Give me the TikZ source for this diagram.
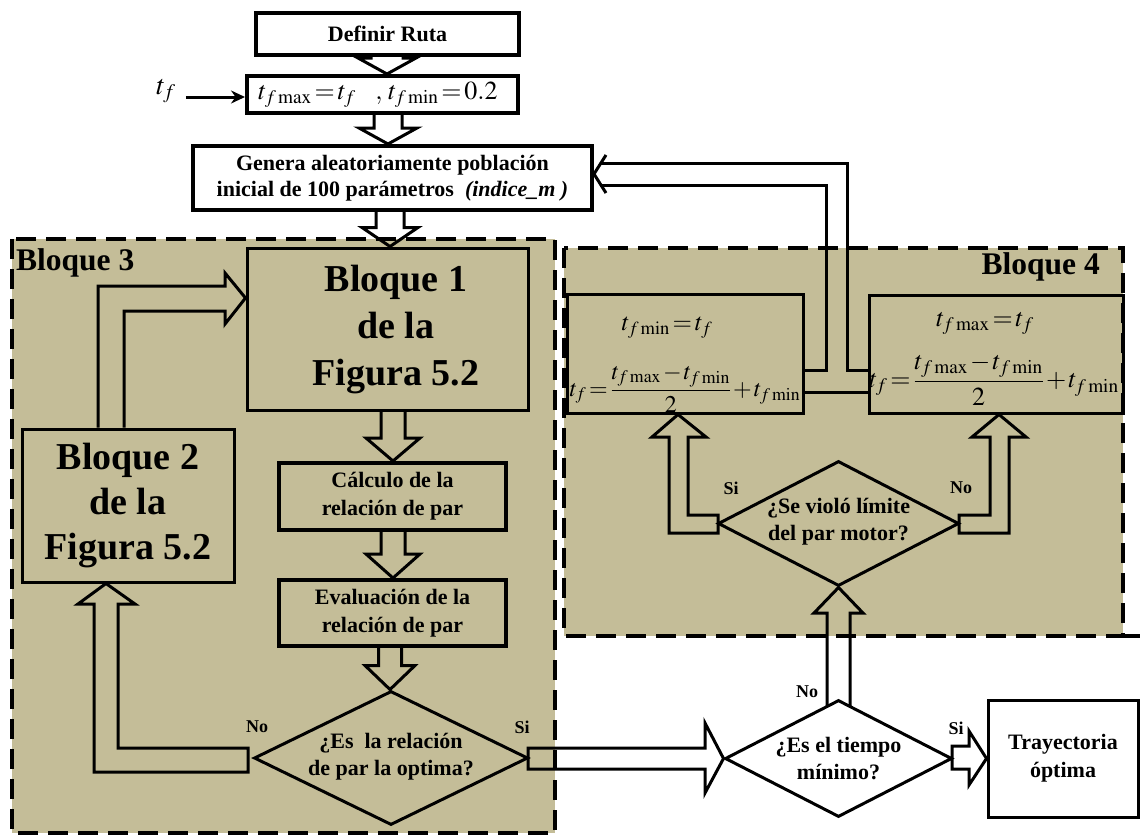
\documentclass[tikz,border=0pt]{standalone}
\usepackage{amsmath}
\usepackage{mathptmx}
\usepackage{fontspec}
\setmainfont{Liberation Serif}
\usetikzlibrary{arrows.meta,calc,shapes.geometric}
\definecolor{khaki}{RGB}{196,189,152}

% hollow block arrow pointing down from the bottom of #1 to the top of #2
% #3 centre x, #4 half shaft width, #5 half head width, #6 head length
\newcommand{\fatdown}[6]{%
  \draw[fat] let \p1=(#1.south), \p2=(#2.north) in
    (#3pt-#4pt,\y1) -- (#3pt-#4pt,\y2+#6pt) -- (#3pt-#5pt,\y2+#6pt) -- (#3pt,\y2)
    -- (#3pt+#5pt,\y2+#6pt) -- (#3pt+#4pt,\y2+#6pt) -- (#3pt+#4pt,\y1);}
% tight spacing for the formulas
\newcommand{\tightmath}{\thickmuskip=2mu\medmuskip=1.5mu\thinmuskip=2mu}

\begin{document}
\begin{tikzpicture}[x=1pt,y=-1pt,
  region/.style={fill=khaki, draw=black, line width=3.5pt, dash pattern=on 20pt off 10pt},
  regionline/.style={draw=black, line width=3.5pt, dash pattern=on 20pt off 10pt},
  box/.style={draw=black, line width=3pt, inner sep=0pt, align=center,
    font=\bfseries\fontsize{22}{28}\selectfont},
  heavybox/.style={box, line width=4pt},
  diam/.style={draw=black, diamond, line width=3pt, inner sep=0pt},
  dtext/.style={inner sep=0pt, align=center, font=\bfseries\fontsize{22}{27}\selectfont},
  bigtext/.style={inner sep=0pt, align=center, font=\bfseries\fontsize{38}{47}\selectfont},
  lbl/.style={inner sep=0pt, font=\bfseries\fontsize{18}{20}\selectfont},
  title/.style={inner sep=0pt, font=\bfseries\fontsize{31.5}{34}\selectfont},
  mathtext/.style={inner sep=0pt},
  fat/.style={draw=black, line width=3pt, line join=miter},
  conn/.style={draw=black, line width=3pt, line join=miter}]
\useasboundingbox (0,0) rectangle (1140,835);

% dashed background blocks
\path[region] (12,239) rectangle (555,833);
\path[region] (564,248) rectangle (1123,636);
\draw[regionline] (1123,636) -- (1140,636);
\node[title, anchor=west] (blq3) at (16,263) {Bloque 3};
\node[title, anchor=east] (blq4) at (1100,267) {Bloque 4};

% upper chain
\node[heavybox, minimum width=263pt, minimum height=42pt] (ruta) at (387.5,34) {Definir Ruta};
\node[heavybox, minimum width=271pt, minimum height=37pt] (tfb) at (382.5,94.5) {};
\node[mathtext, font=\fontsize{26}{30}\selectfont] (tfeq) at (378,95)
  {$\tightmath t_{f\max}=t_f\ \ \ ,\,t_{f\min}=0.2$};
\node[mathtext, font=\fontsize{28}{30}\selectfont] (tfin) at (166,91) {$t_f$};
\draw[line width=3pt, -{Stealth[length=14pt,width=13pt]}]
  ([xshift=10pt]tfin.east |- 0,97) -- (tfb.west |- 0,97);
\node[heavybox, minimum width=399pt, minimum height=64pt,
  font=\bfseries\fontsize{22}{26}\selectfont] (gen) at (392.5,178)
  {Genera aleatoriamente población\\inicial de 100 parámetros \ \textit{(indice\_m )}};

% block 3
\node[box, minimum width=281pt, minimum height=162pt] (b1) at (387.5,329) {};
\node[bigtext] (b1t) at (396,330) {Bloque 1\\de la\\Figura 5.2};
\node[box, minimum width=212pt, minimum height=153pt,
  font=\bfseries\fontsize{38}{45}\selectfont] (b2) at (128,505.5) {Bloque 2\\de la\\Figura 5.2};
\node[heavybox, minimum width=227pt, minimum height=67pt] (calcbox) at (392.5,496.5) {Cálculo de la\\relación de par};
\node[heavybox, minimum width=227pt, minimum height=66pt] (evalb) at (392.5,613) {Evaluación de la\\relación de par};
\node[diam, minimum width=274pt, minimum height=134pt] (d1) at (391,758) {};
\node[dtext] (d1t) at (391,757) {¿Es~ la relación\\de par la optima?};
\node[lbl] (d1no) at (257,727) {No};
\node[lbl] (d1si) at (522,727) {Si};

\fatdown{ruta}{tfb}{387}{16}{29}{16}
\fatdown{tfb}{gen}{388}{14}{29}{16}
\fatdown{gen}{b1}{390}{14}{28}{19}
\fatdown{b1}{calcbox}{393}{12}{27}{23}
\fatdown{calcbox}{evalb}{393}{12}{27}{24}
\fatdown{evalb}{d1}{390}{11.5}{25}{24}

% loop back from Bloque 2 into Bloque 1
\draw[fat] (98,0 |- b2.north) -- (98,286) -- (225,286) -- (225,273) -- (b1.west |- 0,298)
  -- (225,324) -- (225,311) -- (124,311) -- (124,0 |- b2.north);
% "No" branch back to Bloque 2
\draw[fat] (248,748) -- (118,748) -- (118,604) -- (135,604) -- (106,0 |- b2.south)
  -- (78,604) -- (94,604) -- (94,772) -- (248,772) -- cycle;

% block 4
\node[box, minimum width=236pt, minimum height=119pt] (b4l) at (685,353.5) {};
\node[box, minimum width=254pt, minimum height=118pt] (b4r) at (996,354) {};
\node[mathtext, font=\fontsize{25}{30}\selectfont] (b4la) at (667,328) {$\tightmath t_{f\min}=t_f$};
\node[mathtext, font=\fontsize{24}{30}\selectfont] (b4lb) at (685,389) {$\tightmath t_f=\dfrac{t_{f\max}-t_{f\min}}{2}+t_{f\min}$};
\node[mathtext, font=\fontsize{26}{30}\selectfont] (b4ra) at (985,323) {$\tightmath t_{f\max}=t_f$};
\node[mathtext, font=\fontsize{26}{30}\selectfont] (b4rb) at (994,380) {$\tightmath t_f=\dfrac{t_{f\max}-t_{f\min}}{2}+t_{f\min}$};

\node[diam, minimum width=241pt, minimum height=125pt] (d2) at (838.5,523.5) {};
\node[dtext] (d2t) at (838.5,521.5) {¿Se violó límite\\del par motor?};
\node[lbl] (d2si) at (731,488) {Si};
\node[lbl] (d2no) at (961,488) {No};

% feedback to the population generator
\draw[conn] (b4l.east |- 0,370) -- (826,370) -- (826,185) -- (600,185);
\draw[conn] (b4r.west |- 0,370) -- (847,370) -- (847,163) -- (600,163);
\draw[conn] (b4l.east |- 0,392) -- (b4r.west |- 0,392);
\draw[conn] (606,155) -- (gen.east |- 0,174) -- (606,193);

% branches of the motor torque check
\draw[fat] (718,515) -- (688,515) -- (688,437) -- (706,437) -- (678,0 |- b4l.south)
  -- (652,437) -- (669,437) -- (669,533) -- (718,533) -- cycle;
\draw[fat] (959,515) -- (990,515) -- (990,437) -- (972,437) -- (999,0 |- b4r.south)
  -- (1026,437) -- (1009,437) -- (1009,533) -- (959,533) -- cycle;

% minimum time check
\node[diam, minimum width=227pt, minimum height=117pt] (d3) at (838.5,758.5) {};
\node[dtext] (d3t) at (838.5,759) {¿Es el tiempo\\mínimo?};
\node[lbl] (d3no) at (807,692) {No};
\node[lbl] (d3si) at (956,728) {Si};
\node[box, minimum width=150pt, minimum height=117pt] (tray) at (1063,758.5) {Trayectoria\\óptima};

\draw[fat] (827,706) -- (827,613) -- (814,613) -- (d2.south) -- (863,613) -- (850,613) -- (850,706);
\draw[fat] (528,748) -- (705,748) -- (705,723) -- (d3.west) -- (705,793) -- (705,769) -- (528,769) -- cycle;
\draw[fat] (952,746) -- (969,746) -- (969,731) -- (tray.west) -- (969,785) -- (969,769) -- (952,769) -- cycle;
\end{tikzpicture}
\end{document}
